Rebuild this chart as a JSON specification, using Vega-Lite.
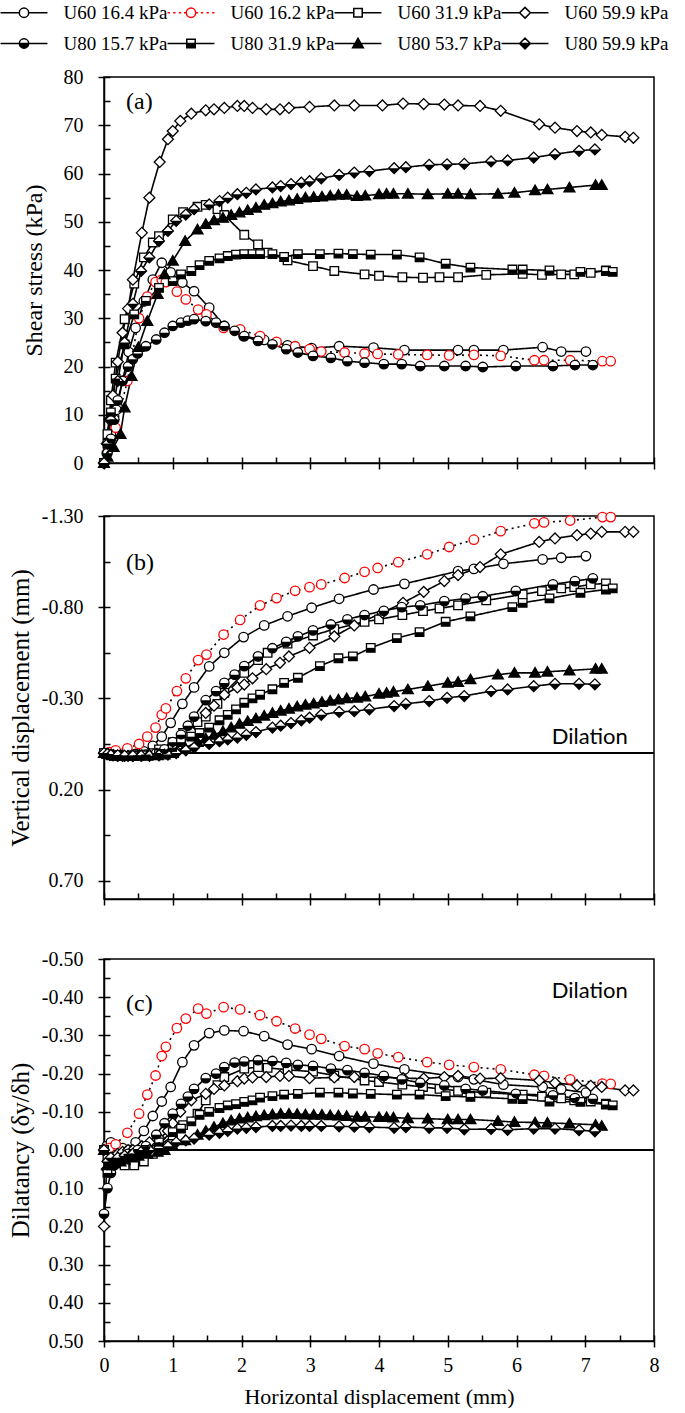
{
"$schema": "https://vega.github.io/schema/vega-lite/v6.json",
"padding": {"left": 0, "top": 2, "right": 0, "bottom": 0},
"config": {
  "view": {"stroke": "black", "strokeWidth": 1.5},
  "axis": {"labelFont": "Liberation Serif", "labelFontSize": 20, "labelColor": "black", "titleFont": "Liberation Serif", "titleFontWeight": "normal", "titleColor": "black", "domainColor": "black", "domainWidth": 1.5, "tickColor": "black", "tickWidth": 1.5, "grid": false, "labelFlush": false, "labelOverlap": false, "labelBound": false}
},
"data": {"values": [
{"s":"U60 16.4 kPa","x":0,"t":0,"v":0,"d":0},
{"s":"U60 16.4 kPa","x":0.04,"t":2,"v":0.005,"d":-0.01},
{"s":"U60 16.4 kPa","x":0.1,"t":6,"v":0.01,"d":-0.02},
{"s":"U60 16.4 kPa","x":0.18,"t":11,"v":0.012,"d":-0.01},
{"s":"U60 16.4 kPa","x":0.27,"t":17,"v":0.012,"d":-0.005},
{"s":"U60 16.4 kPa","x":0.36,"t":23,"v":0.01,"d":0},
{"s":"U60 16.4 kPa","x":0.46,"t":28,"v":0.005,"d":-0.02},
{"s":"U60 16.4 kPa","x":0.58,"t":33.5,"v":-0.01,"d":-0.05},
{"s":"U60 16.4 kPa","x":0.71,"t":38,"v":-0.04,"d":-0.089},
{"s":"U60 16.4 kPa","x":0.84,"t":41.5,"v":-0.09,"d":-0.127},
{"s":"U60 16.4 kPa","x":0.97,"t":39.5,"v":-0.166,"d":-0.165},
{"s":"U60 16.4 kPa","x":1.14,"t":37.4,"v":-0.27,"d":-0.23},
{"s":"U60 16.4 kPa","x":1.31,"t":35.6,"v":-0.36,"d":-0.274},
{"s":"U60 16.4 kPa","x":1.53,"t":32.2,"v":-0.475,"d":-0.306},
{"s":"U60 16.4 kPa","x":1.75,"t":28.4,"v":-0.55,"d":-0.313},
{"s":"U60 16.4 kPa","x":2.03,"t":26.3,"v":-0.636,"d":-0.311},
{"s":"U60 16.4 kPa","x":2.33,"t":25.5,"v":-0.7,"d":-0.298},
{"s":"U60 16.4 kPa","x":2.67,"t":24.4,"v":-0.75,"d":-0.276},
{"s":"U60 16.4 kPa","x":3.02,"t":23.8,"v":-0.797,"d":-0.264},
{"s":"U60 16.4 kPa","x":3.42,"t":24.2,"v":-0.846,"d":-0.246},
{"s":"U60 16.4 kPa","x":3.92,"t":23.9,"v":-0.897,"d":-0.226},
{"s":"U60 16.4 kPa","x":4.37,"t":23.4,"v":-0.928,"d":-0.211},
{"s":"U60 16.4 kPa","x":5.15,"t":23.4,"v":-0.998,"d":-0.191},
{"s":"U60 16.4 kPa","x":5.38,"t":23.4,"v":-1.01,"d":-0.185},
{"s":"U60 16.4 kPa","x":5.81,"t":23.4,"v":-1.038,"d":-0.171},
{"s":"U60 16.4 kPa","x":6.38,"t":24.0,"v":-1.062,"d":-0.165},
{"s":"U60 16.4 kPa","x":6.65,"t":23.1,"v":-1.071,"d":-0.159},
{"s":"U60 16.4 kPa","x":7.01,"t":23.1,"v":-1.08,"d":-0.15},
{"s":"U60 16.2 kPa","x":0,"t":0,"v":0,"d":0},
{"s":"U60 16.2 kPa","x":0.08,"t":3,"v":-0.005,"d":-0.005},
{"s":"U60 16.2 kPa","x":0.17,"t":7.3,"v":-0.015,"d":-0.015},
{"s":"U60 16.2 kPa","x":0.34,"t":17,"v":-0.026,"d":-0.045},
{"s":"U60 16.2 kPa","x":0.51,"t":30,"v":-0.05,"d":-0.095},
{"s":"U60 16.2 kPa","x":0.63,"t":34.5,"v":-0.09,"d":-0.145},
{"s":"U60 16.2 kPa","x":0.75,"t":37.5,"v":-0.14,"d":-0.195},
{"s":"U60 16.2 kPa","x":0.84,"t":38,"v":-0.21,"d":-0.246},
{"s":"U60 16.2 kPa","x":0.9,"t":37.5,"v":-0.245,"d":-0.27},
{"s":"U60 16.2 kPa","x":1.06,"t":35.5,"v":-0.34,"d":-0.319},
{"s":"U60 16.2 kPa","x":1.19,"t":33.9,"v":-0.41,"d":-0.344},
{"s":"U60 16.2 kPa","x":1.37,"t":31.8,"v":-0.51,"d":-0.37},
{"s":"U60 16.2 kPa","x":1.49,"t":30.8,"v":-0.54,"d":-0.357},
{"s":"U60 16.2 kPa","x":1.74,"t":28,"v":-0.65,"d":-0.374},
{"s":"U60 16.2 kPa","x":1.98,"t":27.7,"v":-0.73,"d":-0.368},
{"s":"U60 16.2 kPa","x":2.27,"t":26.3,"v":-0.81,"d":-0.353},
{"s":"U60 16.2 kPa","x":2.51,"t":25.1,"v":-0.85,"d":-0.337},
{"s":"U60 16.2 kPa","x":2.78,"t":24.2,"v":-0.89,"d":-0.318},
{"s":"U60 16.2 kPa","x":2.99,"t":23.6,"v":-0.91,"d":-0.302},
{"s":"U60 16.2 kPa","x":3.16,"t":23.1,"v":-0.925,"d":-0.291},
{"s":"U60 16.2 kPa","x":3.5,"t":22.9,"v":-0.96,"d":-0.272},
{"s":"U60 16.2 kPa","x":3.79,"t":22.7,"v":-0.994,"d":-0.264},
{"s":"U60 16.2 kPa","x":3.98,"t":22.6,"v":-1.015,"d":-0.253},
{"s":"U60 16.2 kPa","x":4.28,"t":22.5,"v":-1.047,"d":-0.243},
{"s":"U60 16.2 kPa","x":4.7,"t":22.4,"v":-1.09,"d":-0.23},
{"s":"U60 16.2 kPa","x":5.02,"t":22.3,"v":-1.13,"d":-0.223},
{"s":"U60 16.2 kPa","x":5.38,"t":22.4,"v":-1.17,"d":-0.217},
{"s":"U60 16.2 kPa","x":5.77,"t":22.2,"v":-1.217,"d":-0.211},
{"s":"U60 16.2 kPa","x":6.26,"t":21.3,"v":-1.26,"d":-0.197},
{"s":"U60 16.2 kPa","x":6.4,"t":21.3,"v":-1.265,"d":-0.194},
{"s":"U60 16.2 kPa","x":6.78,"t":21.3,"v":-1.275,"d":-0.185},
{"s":"U60 16.2 kPa","x":7.25,"t":21.1,"v":-1.294,"d":-0.174},
{"s":"U60 16.2 kPa","x":7.37,"t":21.1,"v":-1.294,"d":-0.173},
{"s":"U60 31.9 kPa","x":0,"t":0,"v":0,"d":0},
{"s":"U60 31.9 kPa","x":0.05,"t":6,"v":0.005,"d":0.02},
{"s":"U60 31.9 kPa","x":0.1,"t":13,"v":0.01,"d":0.03},
{"s":"U60 31.9 kPa","x":0.17,"t":20.8,"v":0.012,"d":0.035},
{"s":"U60 31.9 kPa","x":0.3,"t":29.8,"v":0.015,"d":0.04},
{"s":"U60 31.9 kPa","x":0.44,"t":37.2,"v":0.012,"d":0.04},
{"s":"U60 31.9 kPa","x":0.58,"t":42.6,"v":0.008,"d":0.03},
{"s":"U60 31.9 kPa","x":0.71,"t":45.7,"v":0,"d":0.01},
{"s":"U60 31.9 kPa","x":0.8,"t":47,"v":-0.02,"d":-0.01},
{"s":"U60 31.9 kPa","x":1.0,"t":50.5,"v":-0.06,"d":-0.038},
{"s":"U60 31.9 kPa","x":1.15,"t":52,"v":-0.11,"d":-0.065},
{"s":"U60 31.9 kPa","x":1.36,"t":53.1,"v":-0.17,"d":-0.095},
{"s":"U60 31.9 kPa","x":1.48,"t":53.5,"v":-0.2,"d":-0.13},
{"s":"U60 31.9 kPa","x":1.65,"t":52.6,"v":-0.27,"d":-0.17},
{"s":"U60 31.9 kPa","x":1.75,"t":51.4,"v":-0.33,"d":-0.191},
{"s":"U60 31.9 kPa","x":2.04,"t":47.3,"v":-0.44,"d":-0.213},
{"s":"U60 31.9 kPa","x":2.24,"t":45.3,"v":-0.51,"d":-0.217},
{"s":"U60 31.9 kPa","x":2.38,"t":43.6,"v":-0.55,"d":-0.215},
{"s":"U60 31.9 kPa","x":2.67,"t":42,"v":-0.6,"d":-0.21},
{"s":"U60 31.9 kPa","x":3.04,"t":40.8,"v":-0.645,"d":-0.205},
{"s":"U60 31.9 kPa","x":3.35,"t":39.8,"v":-0.68,"d":-0.195},
{"s":"U60 31.9 kPa","x":3.79,"t":39.1,"v":-0.72,"d":-0.182},
{"s":"U60 31.9 kPa","x":4.0,"t":38.8,"v":-0.733,"d":-0.178},
{"s":"U60 31.9 kPa","x":4.34,"t":38.5,"v":-0.757,"d":-0.171},
{"s":"U60 31.9 kPa","x":4.64,"t":38.4,"v":-0.778,"d":-0.165},
{"s":"U60 31.9 kPa","x":4.88,"t":38.5,"v":-0.793,"d":-0.16},
{"s":"U60 31.9 kPa","x":5.15,"t":38.5,"v":-0.81,"d":-0.155},
{"s":"U60 31.9 kPa","x":5.56,"t":39,"v":-0.837,"d":-0.15},
{"s":"U60 31.9 kPa","x":6.09,"t":39.2,"v":-0.87,"d":-0.145},
{"s":"U60 31.9 kPa","x":6.37,"t":39,"v":-0.888,"d":-0.14},
{"s":"U60 31.9 kPa","x":6.65,"t":39.1,"v":-0.903,"d":-0.135},
{"s":"U60 31.9 kPa","x":6.84,"t":39.1,"v":-0.91,"d":-0.13},
{"s":"U60 31.9 kPa","x":7.08,"t":39.4,"v":-0.925,"d":-0.127},
{"s":"U60 31.9 kPa","x":7.3,"t":39.9,"v":-0.93,"d":-0.121},
{"s":"U60 59.9 kPa","x":0,"t":0,"v":0,"d":0.2},
{"s":"U60 59.9 kPa","x":0.04,"t":4,"v":0.005,"d":0.05},
{"s":"U60 59.9 kPa","x":0.08,"t":9,"v":0.01,"d":0.03},
{"s":"U60 59.9 kPa","x":0.13,"t":14,"v":0.012,"d":0.02},
{"s":"U60 59.9 kPa","x":0.2,"t":21,"v":0.015,"d":0.01},
{"s":"U60 59.9 kPa","x":0.27,"t":27,"v":0.015,"d":0.005},
{"s":"U60 59.9 kPa","x":0.35,"t":32,"v":0.015,"d":0},
{"s":"U60 59.9 kPa","x":0.42,"t":38,"v":0.015,"d":0},
{"s":"U60 59.9 kPa","x":0.55,"t":47.7,"v":0.012,"d":-0.01},
{"s":"U60 59.9 kPa","x":0.66,"t":55,"v":0.01,"d":-0.02},
{"s":"U60 59.9 kPa","x":0.81,"t":62.4,"v":0.005,"d":-0.03},
{"s":"U60 59.9 kPa","x":0.93,"t":67.1,"v":-0.01,"d":-0.05},
{"s":"U60 59.9 kPa","x":1.0,"t":68.8,"v":-0.02,"d":-0.07},
{"s":"U60 59.9 kPa","x":1.11,"t":70.9,"v":-0.05,"d":-0.1},
{"s":"U60 59.9 kPa","x":1.27,"t":72.4,"v":-0.12,"d":-0.13},
{"s":"U60 59.9 kPa","x":1.48,"t":73.1,"v":-0.22,"d":-0.147},
{"s":"U60 59.9 kPa","x":1.6,"t":73.3,"v":-0.26,"d":-0.16},
{"s":"U60 59.9 kPa","x":1.75,"t":73.6,"v":-0.32,"d":-0.169},
{"s":"U60 59.9 kPa","x":1.94,"t":74,"v":-0.36,"d":-0.18},
{"s":"U60 59.9 kPa","x":2.04,"t":74,"v":-0.376,"d":-0.187},
{"s":"U60 59.9 kPa","x":2.16,"t":73.6,"v":-0.41,"d":-0.19},
{"s":"U60 59.9 kPa","x":2.36,"t":73.3,"v":-0.46,"d":-0.191},
{"s":"U60 59.9 kPa","x":2.56,"t":73.3,"v":-0.495,"d":-0.194},
{"s":"U60 59.9 kPa","x":2.69,"t":73.6,"v":-0.53,"d":-0.194},
{"s":"U60 59.9 kPa","x":2.99,"t":73.8,"v":-0.577,"d":-0.188},
{"s":"U60 59.9 kPa","x":3.35,"t":74.1,"v":-0.64,"d":-0.19},
{"s":"U60 59.9 kPa","x":3.64,"t":74.1,"v":-0.7,"d":-0.191},
{"s":"U60 59.9 kPa","x":4.05,"t":74.1,"v":-0.77,"d":-0.19},
{"s":"U60 59.9 kPa","x":4.35,"t":74.5,"v":-0.824,"d":-0.188},
{"s":"U60 59.9 kPa","x":4.65,"t":74.4,"v":-0.884,"d":-0.187},
{"s":"U60 59.9 kPa","x":4.95,"t":74.3,"v":-0.943,"d":-0.191},
{"s":"U60 59.9 kPa","x":5.15,"t":74.1,"v":-0.976,"d":-0.194},
{"s":"U60 59.9 kPa","x":5.47,"t":74,"v":-1.02,"d":-0.187},
{"s":"U60 59.9 kPa","x":5.77,"t":73,"v":-1.09,"d":-0.188},
{"s":"U60 59.9 kPa","x":6.33,"t":70.2,"v":-1.158,"d":-0.182},
{"s":"U60 59.9 kPa","x":6.56,"t":69.5,"v":-1.177,"d":-0.176},
{"s":"U60 59.9 kPa","x":6.88,"t":68.8,"v":-1.195,"d":-0.169},
{"s":"U60 59.9 kPa","x":7.08,"t":68.5,"v":-1.204,"d":-0.168},
{"s":"U60 59.9 kPa","x":7.24,"t":68,"v":-1.213,"d":-0.165},
{"s":"U60 59.9 kPa","x":7.58,"t":67.6,"v":-1.213,"d":-0.156},
{"s":"U60 59.9 kPa","x":7.7,"t":67.4,"v":-1.213,"d":-0.156},
{"s":"U80 15.7 kPa","x":0,"t":0,"v":0,"d":0.167},
{"s":"U80 15.7 kPa","x":0.05,"t":2,"v":0.005,"d":0.1},
{"s":"U80 15.7 kPa","x":0.1,"t":5,"v":0.01,"d":0.06},
{"s":"U80 15.7 kPa","x":0.15,"t":9,"v":0.012,"d":0.04},
{"s":"U80 15.7 kPa","x":0.2,"t":13,"v":0.015,"d":0.03},
{"s":"U80 15.7 kPa","x":0.27,"t":17,"v":0.015,"d":0.02},
{"s":"U80 15.7 kPa","x":0.35,"t":20,"v":0.015,"d":0.01},
{"s":"U80 15.7 kPa","x":0.42,"t":21.5,"v":0.015,"d":0.01},
{"s":"U80 15.7 kPa","x":0.49,"t":22.7,"v":0.012,"d":0},
{"s":"U80 15.7 kPa","x":0.61,"t":24.2,"v":0.008,"d":-0.01},
{"s":"U80 15.7 kPa","x":0.76,"t":25.6,"v":0,"d":-0.04},
{"s":"U80 15.7 kPa","x":0.88,"t":27,"v":-0.02,"d":-0.07},
{"s":"U80 15.7 kPa","x":1.0,"t":28.4,"v":-0.06,"d":-0.095},
{"s":"U80 15.7 kPa","x":1.12,"t":29.1,"v":-0.1,"d":-0.121},
{"s":"U80 15.7 kPa","x":1.22,"t":29.5,"v":-0.15,"d":-0.14},
{"s":"U80 15.7 kPa","x":1.31,"t":29.8,"v":-0.2,"d":-0.16},
{"s":"U80 15.7 kPa","x":1.48,"t":29.4,"v":-0.29,"d":-0.188},
{"s":"U80 15.7 kPa","x":1.63,"t":29.1,"v":-0.34,"d":-0.2},
{"s":"U80 15.7 kPa","x":1.75,"t":28.4,"v":-0.385,"d":-0.217},
{"s":"U80 15.7 kPa","x":1.9,"t":27.4,"v":-0.43,"d":-0.229},
{"s":"U80 15.7 kPa","x":2.04,"t":26.3,"v":-0.477,"d":-0.232},
{"s":"U80 15.7 kPa","x":2.24,"t":25.3,"v":-0.53,"d":-0.235},
{"s":"U80 15.7 kPa","x":2.45,"t":24.6,"v":-0.575,"d":-0.233},
{"s":"U80 15.7 kPa","x":2.65,"t":23.6,"v":-0.61,"d":-0.228},
{"s":"U80 15.7 kPa","x":2.82,"t":22.9,"v":-0.64,"d":-0.223},
{"s":"U80 15.7 kPa","x":3.04,"t":22.2,"v":-0.673,"d":-0.22},
{"s":"U80 15.7 kPa","x":3.3,"t":21.8,"v":-0.705,"d":-0.213},
{"s":"U80 15.7 kPa","x":3.54,"t":21.1,"v":-0.733,"d":-0.209},
{"s":"U80 15.7 kPa","x":3.79,"t":20.8,"v":-0.757,"d":-0.202},
{"s":"U80 15.7 kPa","x":4.07,"t":20.5,"v":-0.78,"d":-0.194},
{"s":"U80 15.7 kPa","x":4.33,"t":20.5,"v":-0.8,"d":-0.185},
{"s":"U80 15.7 kPa","x":4.6,"t":20.1,"v":-0.81,"d":-0.176},
{"s":"U80 15.7 kPa","x":4.95,"t":20.1,"v":-0.833,"d":-0.169},
{"s":"U80 15.7 kPa","x":5.26,"t":20.1,"v":-0.848,"d":-0.16},
{"s":"U80 15.7 kPa","x":5.51,"t":19.9,"v":-0.86,"d":-0.156},
{"s":"U80 15.7 kPa","x":5.99,"t":20.1,"v":-0.89,"d":-0.147},
{"s":"U80 15.7 kPa","x":6.53,"t":20.1,"v":-0.925,"d":-0.143},
{"s":"U80 15.7 kPa","x":6.85,"t":20.3,"v":-0.943,"d":-0.136},
{"s":"U80 15.7 kPa","x":7.11,"t":20.3,"v":-0.958,"d":-0.134},
{"s":"U80 31.9 kPa","x":0,"t":0,"v":0,"d":0},
{"s":"U80 31.9 kPa","x":0.05,"t":4,"v":0.005,"d":0.06},
{"s":"U80 31.9 kPa","x":0.1,"t":10.5,"v":0.01,"d":0.04},
{"s":"U80 31.9 kPa","x":0.17,"t":17.5,"v":0.012,"d":0.03},
{"s":"U80 31.9 kPa","x":0.3,"t":24.6,"v":0.015,"d":0.02},
{"s":"U80 31.9 kPa","x":0.44,"t":30.8,"v":0.015,"d":0.01},
{"s":"U80 31.9 kPa","x":0.61,"t":33.6,"v":0.012,"d":0},
{"s":"U80 31.9 kPa","x":0.8,"t":36.3,"v":0.005,"d":-0.02},
{"s":"U80 31.9 kPa","x":1.0,"t":37.7,"v":-0.03,"d":-0.047},
{"s":"U80 31.9 kPa","x":1.12,"t":39.1,"v":-0.06,"d":-0.056},
{"s":"U80 31.9 kPa","x":1.27,"t":39.8,"v":-0.09,"d":-0.075},
{"s":"U80 31.9 kPa","x":1.39,"t":41,"v":-0.11,"d":-0.092},
{"s":"U80 31.9 kPa","x":1.53,"t":41.9,"v":-0.14,"d":-0.1},
{"s":"U80 31.9 kPa","x":1.68,"t":42.4,"v":-0.18,"d":-0.11},
{"s":"U80 31.9 kPa","x":1.8,"t":42.9,"v":-0.21,"d":-0.117},
{"s":"U80 31.9 kPa","x":1.92,"t":43.2,"v":-0.24,"d":-0.12},
{"s":"U80 31.9 kPa","x":2.04,"t":43.3,"v":-0.276,"d":-0.126},
{"s":"U80 31.9 kPa","x":2.16,"t":43.3,"v":-0.3,"d":-0.13},
{"s":"U80 31.9 kPa","x":2.27,"t":43.3,"v":-0.32,"d":-0.137},
{"s":"U80 31.9 kPa","x":2.45,"t":43.3,"v":-0.35,"d":-0.141},
{"s":"U80 31.9 kPa","x":2.62,"t":42.7,"v":-0.385,"d":-0.145},
{"s":"U80 31.9 kPa","x":2.82,"t":43.3,"v":-0.413,"d":-0.147},
{"s":"U80 31.9 kPa","x":3.14,"t":43.3,"v":-0.477,"d":-0.15},
{"s":"U80 31.9 kPa","x":3.41,"t":43.4,"v":-0.52,"d":-0.15},
{"s":"U80 31.9 kPa","x":3.62,"t":43.3,"v":-0.53,"d":-0.148},
{"s":"U80 31.9 kPa","x":3.88,"t":43.2,"v":-0.577,"d":-0.147},
{"s":"U80 31.9 kPa","x":4.26,"t":43.2,"v":-0.63,"d":-0.145},
{"s":"U80 31.9 kPa","x":4.59,"t":42.6,"v":-0.663,"d":-0.145},
{"s":"U80 31.9 kPa","x":4.97,"t":41.3,"v":-0.72,"d":-0.141},
{"s":"U80 31.9 kPa","x":5.33,"t":40.5,"v":-0.75,"d":-0.139},
{"s":"U80 31.9 kPa","x":5.94,"t":40.1,"v":-0.8,"d":-0.134},
{"s":"U80 31.9 kPa","x":6.09,"t":40.1,"v":-0.824,"d":-0.133},
{"s":"U80 31.9 kPa","x":6.48,"t":39.9,"v":-0.848,"d":-0.127},
{"s":"U80 31.9 kPa","x":6.93,"t":39.6,"v":-0.879,"d":-0.126},
{"s":"U80 31.9 kPa","x":7.3,"t":39.8,"v":-0.897,"d":-0.119},
{"s":"U80 31.9 kPa","x":7.4,"t":39.6,"v":-0.903,"d":-0.117},
{"s":"U80 53.7 kPa","x":0,"t":0,"v":0,"d":0},
{"s":"U80 53.7 kPa","x":0.05,"t":1.3,"v":0.005,"d":0.04},
{"s":"U80 53.7 kPa","x":0.14,"t":3.3,"v":0.01,"d":0.03},
{"s":"U80 53.7 kPa","x":0.24,"t":6,"v":0.012,"d":0.03},
{"s":"U80 53.7 kPa","x":0.3,"t":11.5,"v":0.015,"d":0.025},
{"s":"U80 53.7 kPa","x":0.4,"t":18,"v":0.015,"d":0.02},
{"s":"U80 53.7 kPa","x":0.5,"t":24,"v":0.015,"d":0.015},
{"s":"U80 53.7 kPa","x":0.63,"t":29.4,"v":0.015,"d":0.01},
{"s":"U80 53.7 kPa","x":0.78,"t":35,"v":0.012,"d":0.005},
{"s":"U80 53.7 kPa","x":0.88,"t":39.1,"v":0.008,"d":0},
{"s":"U80 53.7 kPa","x":1.0,"t":41.9,"v":0,"d":-0.01},
{"s":"U80 53.7 kPa","x":1.18,"t":46,"v":-0.03,"d":-0.025},
{"s":"U80 53.7 kPa","x":1.36,"t":48.4,"v":-0.06,"d":-0.04},
{"s":"U80 53.7 kPa","x":1.48,"t":49.5,"v":-0.08,"d":-0.05},
{"s":"U80 53.7 kPa","x":1.6,"t":50.3,"v":-0.1,"d":-0.06},
{"s":"U80 53.7 kPa","x":1.73,"t":50.8,"v":-0.12,"d":-0.07},
{"s":"U80 53.7 kPa","x":1.85,"t":51.4,"v":-0.14,"d":-0.077},
{"s":"U80 53.7 kPa","x":1.97,"t":51.9,"v":-0.16,"d":-0.082},
{"s":"U80 53.7 kPa","x":2.09,"t":52.4,"v":-0.175,"d":-0.085},
{"s":"U80 53.7 kPa","x":2.21,"t":52.9,"v":-0.19,"d":-0.088},
{"s":"U80 53.7 kPa","x":2.33,"t":53.5,"v":-0.205,"d":-0.091},
{"s":"U80 53.7 kPa","x":2.45,"t":53.8,"v":-0.22,"d":-0.093},
{"s":"U80 53.7 kPa","x":2.57,"t":54.2,"v":-0.232,"d":-0.095},
{"s":"U80 53.7 kPa","x":2.69,"t":54.4,"v":-0.243,"d":-0.095},
{"s":"U80 53.7 kPa","x":2.81,"t":54.7,"v":-0.255,"d":-0.094},
{"s":"U80 53.7 kPa","x":2.93,"t":55,"v":-0.265,"d":-0.093},
{"s":"U80 53.7 kPa","x":3.05,"t":55.1,"v":-0.272,"d":-0.092},
{"s":"U80 53.7 kPa","x":3.17,"t":55.2,"v":-0.28,"d":-0.092},
{"s":"U80 53.7 kPa","x":3.29,"t":55.4,"v":-0.287,"d":-0.091},
{"s":"U80 53.7 kPa","x":3.41,"t":55.6,"v":-0.294,"d":-0.09},
{"s":"U80 53.7 kPa","x":3.53,"t":55.6,"v":-0.3,"d":-0.089},
{"s":"U80 53.7 kPa","x":3.68,"t":55.3,"v":-0.303,"d":-0.087},
{"s":"U80 53.7 kPa","x":3.8,"t":55.4,"v":-0.31,"d":-0.087},
{"s":"U80 53.7 kPa","x":4.0,"t":55.7,"v":-0.325,"d":-0.086},
{"s":"U80 53.7 kPa","x":4.11,"t":55.8,"v":-0.33,"d":-0.086},
{"s":"U80 53.7 kPa","x":4.21,"t":55.8,"v":-0.336,"d":-0.085},
{"s":"U80 53.7 kPa","x":4.42,"t":55.8,"v":-0.349,"d":-0.083},
{"s":"U80 53.7 kPa","x":4.71,"t":55.7,"v":-0.367,"d":-0.082},
{"s":"U80 53.7 kPa","x":5.0,"t":55.8,"v":-0.385,"d":-0.08},
{"s":"U80 53.7 kPa","x":5.15,"t":55.8,"v":-0.39,"d":-0.08},
{"s":"U80 53.7 kPa","x":5.33,"t":55.7,"v":-0.404,"d":-0.08},
{"s":"U80 53.7 kPa","x":5.73,"t":55.8,"v":-0.43,"d":-0.076},
{"s":"U80 53.7 kPa","x":5.97,"t":56,"v":-0.44,"d":-0.073},
{"s":"U80 53.7 kPa","x":6.27,"t":56.5,"v":-0.44,"d":-0.072},
{"s":"U80 53.7 kPa","x":6.45,"t":56.7,"v":-0.446,"d":-0.071},
{"s":"U80 53.7 kPa","x":6.77,"t":57.1,"v":-0.453,"d":-0.069},
{"s":"U80 53.7 kPa","x":7.15,"t":57.6,"v":-0.462,"d":-0.066},
{"s":"U80 53.7 kPa","x":7.24,"t":57.6,"v":-0.462,"d":-0.063},
{"s":"U80 59.9 kPa","x":0,"t":0,"v":0,"d":0},
{"s":"U80 59.9 kPa","x":0.05,"t":4,"v":0.005,"d":0.03},
{"s":"U80 59.9 kPa","x":0.1,"t":9,"v":0.01,"d":0.02},
{"s":"U80 59.9 kPa","x":0.2,"t":17,"v":0.012,"d":0.02},
{"s":"U80 59.9 kPa","x":0.3,"t":25,"v":0.015,"d":0.015},
{"s":"U80 59.9 kPa","x":0.42,"t":33,"v":0.015,"d":0.01},
{"s":"U80 59.9 kPa","x":0.54,"t":39.8,"v":0.015,"d":0.005},
{"s":"U80 59.9 kPa","x":0.66,"t":42.6,"v":0.015,"d":0},
{"s":"U80 59.9 kPa","x":0.8,"t":46,"v":0.012,"d":-0.005},
{"s":"U80 59.9 kPa","x":0.93,"t":48.1,"v":0.008,"d":-0.01},
{"s":"U80 59.9 kPa","x":1.05,"t":50.2,"v":0,"d":-0.02},
{"s":"U80 59.9 kPa","x":1.19,"t":51.5,"v":-0.015,"d":-0.025},
{"s":"U80 59.9 kPa","x":1.31,"t":52.6,"v":-0.03,"d":-0.03},
{"s":"U80 59.9 kPa","x":1.53,"t":53.6,"v":-0.05,"d":-0.04},
{"s":"U80 59.9 kPa","x":1.68,"t":54.3,"v":-0.065,"d":-0.045},
{"s":"U80 59.9 kPa","x":1.8,"t":55,"v":-0.075,"d":-0.05},
{"s":"U80 59.9 kPa","x":1.94,"t":55.7,"v":-0.085,"d":-0.056},
{"s":"U80 59.9 kPa","x":2.07,"t":56,"v":-0.1,"d":-0.058},
{"s":"U80 59.9 kPa","x":2.21,"t":56.7,"v":-0.115,"d":-0.06},
{"s":"U80 59.9 kPa","x":2.45,"t":57.1,"v":-0.14,"d":-0.063},
{"s":"U80 59.9 kPa","x":2.57,"t":57.4,"v":-0.15,"d":-0.063},
{"s":"U80 59.9 kPa","x":2.72,"t":57.8,"v":-0.165,"d":-0.064},
{"s":"U80 59.9 kPa","x":2.87,"t":58.1,"v":-0.18,"d":-0.063},
{"s":"U80 59.9 kPa","x":2.99,"t":58.4,"v":-0.194,"d":-0.063},
{"s":"U80 59.9 kPa","x":3.16,"t":59,"v":-0.21,"d":-0.063},
{"s":"U80 59.9 kPa","x":3.42,"t":59.7,"v":-0.226,"d":-0.062},
{"s":"U80 59.9 kPa","x":3.64,"t":60.2,"v":-0.23,"d":-0.061},
{"s":"U80 59.9 kPa","x":3.86,"t":60.5,"v":-0.24,"d":-0.06},
{"s":"U80 59.9 kPa","x":4.22,"t":61.1,"v":-0.258,"d":-0.058},
{"s":"U80 59.9 kPa","x":4.39,"t":61.3,"v":-0.27,"d":-0.06},
{"s":"U80 59.9 kPa","x":4.73,"t":61.8,"v":-0.285,"d":-0.058},
{"s":"U80 59.9 kPa","x":4.99,"t":61.9,"v":-0.303,"d":-0.058},
{"s":"U80 59.9 kPa","x":5.24,"t":62,"v":-0.313,"d":-0.054},
{"s":"U80 59.9 kPa","x":5.63,"t":62.5,"v":-0.34,"d":-0.055},
{"s":"U80 59.9 kPa","x":5.87,"t":62.7,"v":-0.349,"d":-0.053},
{"s":"U80 59.9 kPa","x":6.25,"t":63.3,"v":-0.367,"d":-0.056},
{"s":"U80 59.9 kPa","x":6.56,"t":64,"v":-0.38,"d":-0.056},
{"s":"U80 59.9 kPa","x":6.91,"t":64.7,"v":-0.38,"d":-0.052},
{"s":"U80 59.9 kPa","x":7.14,"t":65,"v":-0.377,"d":-0.049}
]},
"spacing": 0,
"bounds": "flush",
"vconcat": [
{
 "width": 550, "height": 386,
 "resolve": {"scale": {"shape": "independent", "fill": "independent", "stroke": "independent"}, "axis": {"x": "independent", "y": "independent"}},
 "layer": [
  {"mark": {"type": "line", "color": "black", "strokeWidth": 1.6},
   "encoding": {
    "x": {"field": "x", "type": "quantitative", "scale": {"domain": [0, 8], "nice": false, "zero": false}, "axis": {"orient": "bottom", "values": [0,1,2,3,4,5,6,7,8], "tickSize": 6, "labels": false, "title": null}},
    "y": {"field": "t", "type": "quantitative", "scale": {"domain": [0, 80], "nice": false}, "axis": {"orient": "left", "values": [0,10,20,30,40,50,60,70,80], "format": "d", "tickSize": 6, "labelPadding": 15, "title": "Shear stress (kPa)", "titleFontSize": 24, "titlePadding": 17}},
    "detail": {"field": "s", "type": "nominal"},
    "strokeDash": {"field": "s", "type": "nominal", "scale": {"domain": ["U60 16.4 kPa","U60 16.2 kPa","U60 31.9 kPa","U60 59.9 kPa","U80 15.7 kPa","U80 31.9 kPa","U80 53.7 kPa","U80 59.9 kPa"], "range": [[1,0],[2,4],[1,0],[1,0],[1,0],[1,0],[1,0],[1,0]]}, "legend": null}
   }},
  {"mark": {"type": "point", "filled": true, "opacity": 1, "size": 90, "strokeWidth": 1.3},
   "encoding": {
    "x": {"field": "x", "type": "quantitative", "scale": {"domain": [0, 8], "nice": false, "zero": false}, "axis": {"orient": "bottom", "values": [0,0.5,1,1.5,2,2.5,3,3.5,4,4.5,5,5.5,6,6.5,7,7.5,8], "tickSize": -6, "labels": false, "domain": false, "title": null}},
    "y": {"field": "t", "type": "quantitative", "scale": {"domain": [0, 80], "nice": false}, "axis": {"orient": "left", "values": [0,5,10,15,20,25,30,35,40,45,50,55,60,65,70,75,80], "tickSize": -6, "labels": false, "domain": false, "title": null}},
    "shape": {"field": "s", "type": "nominal", "scale": {"domain": ["U60 16.4 kPa","U60 16.2 kPa","U60 31.9 kPa","U60 59.9 kPa","U80 15.7 kPa","U80 31.9 kPa","U80 53.7 kPa","U80 59.9 kPa"], "range": ["M1,0A1,1 0 1,1 -1,0A1,1 0 1,1 1,0Z","M1,0A1,1 0 1,1 -1,0A1,1 0 1,1 1,0Z","M-0.9,-0.9H0.9V0.9H-0.9Z","M-1.15,0L0,-1.15L1.15,0L0,1.15Z","M1,0A1,1 0 1,1 -1,0A1,1 0 1,1 1,0Z","M-0.9,-0.9H0.9V0.9H-0.9Z","M0,-1.1L1.15,0.9L-1.15,0.9Z","M-1.15,0L0,-1.15L1.15,0L0,1.15Z"]}, "legend": null},
    "fill": {"field": "s", "type": "nominal", "scale": {"domain": ["U60 16.4 kPa","U60 16.2 kPa","U60 31.9 kPa","U60 59.9 kPa","U80 15.7 kPa","U80 31.9 kPa","U80 53.7 kPa","U80 59.9 kPa"], "range": ["white","white","white","white","white","white","black","white"]}, "legend": null},
    "stroke": {"field": "s", "type": "nominal", "scale": {"domain": ["U60 16.4 kPa","U60 16.2 kPa","U60 31.9 kPa","U60 59.9 kPa","U80 15.7 kPa","U80 31.9 kPa","U80 53.7 kPa","U80 59.9 kPa"], "range": ["black","#ff0000","black","black","black","black","black","black"]}, "legend": null}
   }},
  {"transform": [{"filter": {"field": "s", "oneOf": ["U80 15.7 kPa","U80 31.9 kPa","U80 59.9 kPa"]}}],
   "mark": {"type": "point", "filled": true, "opacity": 1, "size": 90, "fill": "black", "strokeWidth": 0},
   "encoding": {
    "x": {"field": "x", "type": "quantitative", "axis": null},
    "y": {"field": "t", "type": "quantitative", "axis": null},
    "shape": {"field": "s", "type": "nominal", "scale": {"domain": ["U80 15.7 kPa","U80 31.9 kPa","U80 59.9 kPa"], "range": ["M-1,0A1,1 0 0,0 1,0Z","M-0.9,0H0.9V0.9H-0.9Z","M-1.15,0L1.15,0L0,1.15Z"]}, "legend": null}
   }},
  {"data": {"values": [{}]},
   "mark": {"type": "text", "text": "(a)", "font": "Liberation Serif", "fontSize": 24, "align": "left", "baseline": "middle", "color": "black"},
   "encoding": {"x": {"datum": 0.32, "type": "quantitative", "axis": null}, "y": {"datum": 74.8, "type": "quantitative", "axis": null}}},
  {"transform": [{"filter": "datum.x < 0"}],
   "mark": {"type": "point", "filled": true, "opacity": 1, "strokeWidth": 1.5},
   "encoding": {
    "shape": {"field": "s", "type": "nominal", "scale": {"domain": ["U60 16.4 kPa","U60 16.2 kPa","U60 31.9 kPa","U60 59.9 kPa","U80 15.7 kPa","U80 31.9 kPa","U80 53.7 kPa","U80 59.9 kPa"], "range": [
      "M-5,0H-1M1,0H5M1,0A1,1 0 1,1 -1,0A1,1 0 1,1 1,0Z",
      "M-5,0H-4.5M-3.8,0H-3.3M-2.6,0H-2.1M-1.5,0H-1.1M1.1,0H1.5M2.1,0H2.6M3.3,0H3.8M4.5,0H5M1,0A1,1 0 1,1 -1,0A1,1 0 1,1 1,0Z",
      "M-5,0H-0.9M0.9,0H5M-0.9,-0.9H0.9V0.9H-0.9Z",
      "M-5,0H-1.15M1.15,0H5M-1.15,0L0,-1.15L1.15,0L0,1.15Z",
      "M-5,0H-1M1,0H5M-1,0A1,1 0 0,1 1,0A1,1 0 0,0 -1,0M-1,0A1,1 0 0,0 1,0Z",
      "M-5,0H-0.9M0.9,0H5M-0.9,0V-0.9H0.9V0V-0.9H-0.9V0M-0.9,0H0.9V0.9H-0.9Z",
      "M-5,0H5M0,-1.1L1.15,0.9L-1.15,0.9Z",
      "M-5,0H-1.15M1.15,0H5M-1.15,0L0,-1.15L1.15,0L0,-1.15L-1.15,0M-1.15,0L1.15,0L0,1.15Z"]},
     "legend": {"orient": "none", "legendX": -103, "legendY": -74, "direction": "horizontal", "columns": 4, "gridAlign": "each", "title": null, "labelFont": "Liberation Serif", "labelFontSize": 19, "labelColor": "black", "symbolSize": 88, "symbolStrokeWidth": 1.5, "symbolOffset": 13.5, "labelOffset": 30, "columnPadding": -22, "rowPadding": 11, "padding": 0, "labelLimit": 300}},
    "fill": {"field": "s", "type": "nominal", "scale": {"domain": ["U60 16.4 kPa","U60 16.2 kPa","U60 31.9 kPa","U60 59.9 kPa","U80 15.7 kPa","U80 31.9 kPa","U80 53.7 kPa","U80 59.9 kPa"], "range": ["white","white","white","white","black","black","black","black"]},
     "legend": {"orient": "none", "legendX": -103, "legendY": -74, "direction": "horizontal", "columns": 4, "gridAlign": "each", "title": null, "labelFont": "Liberation Serif", "labelFontSize": 19, "labelColor": "black", "symbolSize": 88, "symbolStrokeWidth": 1.5, "symbolOffset": 13.5, "labelOffset": 30, "columnPadding": -22, "rowPadding": 11, "padding": 0, "labelLimit": 300}},
    "stroke": {"field": "s", "type": "nominal", "scale": {"domain": ["U60 16.4 kPa","U60 16.2 kPa","U60 31.9 kPa","U60 59.9 kPa","U80 15.7 kPa","U80 31.9 kPa","U80 53.7 kPa","U80 59.9 kPa"], "range": ["black","#ff0000","black","black","black","black","black","black"]},
     "legend": {"orient": "none", "legendX": -103, "legendY": -74, "direction": "horizontal", "columns": 4, "gridAlign": "each", "title": null, "labelFont": "Liberation Serif", "labelFontSize": 19, "labelColor": "black", "symbolSize": 88, "symbolStrokeWidth": 1.5, "symbolOffset": 13.5, "labelOffset": 30, "columnPadding": -22, "rowPadding": 11, "padding": 0, "labelLimit": 300}}
   }}
 ]
},
{"width": 550, "height": 53, "view": {"stroke": null}, "data": {"values": []}, "mark": {"type": "point", "opacity": 0}},
{
 "width": 550, "height": 383,
 "resolve": {"scale": {"shape": "independent", "fill": "independent", "stroke": "independent"}, "axis": {"x": "independent", "y": "independent"}},
 "layer": [
  {"data": {"values": [{}]},
   "mark": {"type": "rule", "color": "black", "strokeWidth": 2},
   "encoding": {"y": {"datum": 0, "type": "quantitative", "axis": null}}},
  {"mark": {"type": "line", "color": "black", "strokeWidth": 1.6},
   "encoding": {
    "x": {"field": "x", "type": "quantitative", "scale": {"domain": [0, 8], "nice": false, "zero": false}, "axis": {"orient": "bottom", "values": [0,1,2,3,4,5,6,7,8], "tickSize": 6, "labels": false, "title": null}},
    "y": {"field": "v", "type": "quantitative", "scale": {"domain": [-1.3, 0.8], "nice": false, "zero": false, "reverse": true}, "axis": {"orient": "left", "values": [-1.3,-0.8,-0.3,0.2,0.7], "labelExpr": "(datum.value < 0 ? '-' : '') + format(abs(datum.value), '.2f')", "tickSize": 6, "labelPadding": 15, "title": "Vertical displacement (mm)", "titleFontSize": 25, "titlePadding": 8}},
    "detail": {"field": "s", "type": "nominal"},
    "strokeDash": {"field": "s", "type": "nominal", "scale": {"domain": ["U60 16.4 kPa","U60 16.2 kPa","U60 31.9 kPa","U60 59.9 kPa","U80 15.7 kPa","U80 31.9 kPa","U80 53.7 kPa","U80 59.9 kPa"], "range": [[1,0],[2,4],[1,0],[1,0],[1,0],[1,0],[1,0],[1,0]]}, "legend": null}
   }},
  {"mark": {"type": "point", "filled": true, "opacity": 1, "size": 90, "strokeWidth": 1.3},
   "encoding": {
    "x": {"field": "x", "type": "quantitative", "scale": {"domain": [0, 8], "nice": false, "zero": false}, "axis": {"orient": "bottom", "values": [0,0.5,1,1.5,2,2.5,3,3.5,4,4.5,5,5.5,6,6.5,7,7.5,8], "tickSize": -6, "labels": false, "domain": false, "title": null}},
    "y": {"field": "v", "type": "quantitative", "scale": {"domain": [-1.3, 0.8], "nice": false, "zero": false, "reverse": true}, "axis": {"orient": "left", "values": [-1.3,-1.05,-0.8,-0.55,-0.3,-0.05,0.2,0.45,0.7], "tickSize": -6, "labels": false, "domain": false, "title": null}},
    "shape": {"field": "s", "type": "nominal", "scale": {"domain": ["U60 16.4 kPa","U60 16.2 kPa","U60 31.9 kPa","U60 59.9 kPa","U80 15.7 kPa","U80 31.9 kPa","U80 53.7 kPa","U80 59.9 kPa"], "range": ["M1,0A1,1 0 1,1 -1,0A1,1 0 1,1 1,0Z","M1,0A1,1 0 1,1 -1,0A1,1 0 1,1 1,0Z","M-0.9,-0.9H0.9V0.9H-0.9Z","M-1.15,0L0,-1.15L1.15,0L0,1.15Z","M1,0A1,1 0 1,1 -1,0A1,1 0 1,1 1,0Z","M-0.9,-0.9H0.9V0.9H-0.9Z","M0,-1.1L1.15,0.9L-1.15,0.9Z","M-1.15,0L0,-1.15L1.15,0L0,1.15Z"]}, "legend": null},
    "fill": {"field": "s", "type": "nominal", "scale": {"domain": ["U60 16.4 kPa","U60 16.2 kPa","U60 31.9 kPa","U60 59.9 kPa","U80 15.7 kPa","U80 31.9 kPa","U80 53.7 kPa","U80 59.9 kPa"], "range": ["white","white","white","white","white","white","black","white"]}, "legend": null},
    "stroke": {"field": "s", "type": "nominal", "scale": {"domain": ["U60 16.4 kPa","U60 16.2 kPa","U60 31.9 kPa","U60 59.9 kPa","U80 15.7 kPa","U80 31.9 kPa","U80 53.7 kPa","U80 59.9 kPa"], "range": ["black","#ff0000","black","black","black","black","black","black"]}, "legend": null}
   }},
  {"transform": [{"filter": {"field": "s", "oneOf": ["U80 15.7 kPa","U80 31.9 kPa","U80 59.9 kPa"]}}],
   "mark": {"type": "point", "filled": true, "opacity": 1, "size": 90, "fill": "black", "strokeWidth": 0},
   "encoding": {
    "x": {"field": "x", "type": "quantitative", "axis": null},
    "y": {"field": "v", "type": "quantitative", "axis": null},
    "shape": {"field": "s", "type": "nominal", "scale": {"domain": ["U80 15.7 kPa","U80 31.9 kPa","U80 59.9 kPa"], "range": ["M-1,0A1,1 0 0,0 1,0Z","M-0.9,0H0.9V0.9H-0.9Z","M-1.15,0L1.15,0L0,1.15Z"]}, "legend": null}
   }},
  {"data": {"values": [{}]},
   "mark": {"type": "text", "text": "(b)", "font": "Liberation Serif", "fontSize": 24, "align": "left", "baseline": "middle", "color": "black"},
   "encoding": {"x": {"datum": 0.32, "type": "quantitative", "axis": null}, "y": {"datum": -1.04, "type": "quantitative", "axis": null}}},
  {"data": {"values": [{}]},
   "mark": {"type": "text", "text": "Dilation", "font": "Lato", "fontSize": 22, "align": "right", "baseline": "alphabetic", "color": "black"},
   "encoding": {"x": {"datum": 7.62, "type": "quantitative", "axis": null}, "y": {"datum": -0.05, "type": "quantitative", "axis": null}}}
 ]
},
{"width": 550, "height": 60, "view": {"stroke": null}, "data": {"values": []}, "mark": {"type": "point", "opacity": 0}},
{
 "width": 550, "height": 382,
 "resolve": {"scale": {"shape": "independent", "fill": "independent", "stroke": "independent"}, "axis": {"x": "independent", "y": "independent"}},
 "layer": [
  {"data": {"values": [{}]},
   "mark": {"type": "rule", "color": "black", "strokeWidth": 2},
   "encoding": {"y": {"datum": 0, "type": "quantitative", "axis": null}}},
  {"mark": {"type": "line", "color": "black", "strokeWidth": 1.6},
   "encoding": {
    "x": {"field": "x", "type": "quantitative", "scale": {"domain": [0, 8], "nice": false, "zero": false}, "axis": {"orient": "bottom", "values": [0,1,2,3,4,5,6,7,8], "format": "d", "tickSize": 6, "labelPadding": 8, "title": "Horizontal displacement (mm)", "titleFontSize": 22, "titlePadding": 11}},
    "y": {"field": "d", "type": "quantitative", "scale": {"domain": [-0.5, 0.5], "nice": false, "zero": false, "reverse": true}, "axis": {"orient": "left", "values": [-0.5,-0.4,-0.3,-0.2,-0.1,0,0.1,0.2,0.3,0.4,0.5], "labelExpr": "(datum.value < 0 ? '-' : '') + format(abs(datum.value), '.2f')", "tickSize": 6, "labelPadding": 15, "title": "Dilatancy (δy/δh)", "titleFontSize": 25, "titlePadding": 8}},
    "detail": {"field": "s", "type": "nominal"},
    "strokeDash": {"field": "s", "type": "nominal", "scale": {"domain": ["U60 16.4 kPa","U60 16.2 kPa","U60 31.9 kPa","U60 59.9 kPa","U80 15.7 kPa","U80 31.9 kPa","U80 53.7 kPa","U80 59.9 kPa"], "range": [[1,0],[2,4],[1,0],[1,0],[1,0],[1,0],[1,0],[1,0]]}, "legend": null}
   }},
  {"mark": {"type": "point", "filled": true, "opacity": 1, "size": 90, "strokeWidth": 1.3},
   "encoding": {
    "x": {"field": "x", "type": "quantitative", "scale": {"domain": [0, 8], "nice": false, "zero": false}, "axis": {"orient": "bottom", "values": [0,0.5,1,1.5,2,2.5,3,3.5,4,4.5,5,5.5,6,6.5,7,7.5,8], "tickSize": -6, "labels": false, "domain": false, "title": null}},
    "y": {"field": "d", "type": "quantitative", "scale": {"domain": [-0.5, 0.5], "nice": false, "zero": false, "reverse": true}, "axis": {"orient": "left", "values": [-0.5,-0.45,-0.4,-0.35,-0.3,-0.25,-0.2,-0.15,-0.1,-0.05,0,0.05,0.1,0.15,0.2,0.25,0.3,0.35,0.4,0.45,0.5], "tickSize": -6, "labels": false, "domain": false, "title": null}},
    "shape": {"field": "s", "type": "nominal", "scale": {"domain": ["U60 16.4 kPa","U60 16.2 kPa","U60 31.9 kPa","U60 59.9 kPa","U80 15.7 kPa","U80 31.9 kPa","U80 53.7 kPa","U80 59.9 kPa"], "range": ["M1,0A1,1 0 1,1 -1,0A1,1 0 1,1 1,0Z","M1,0A1,1 0 1,1 -1,0A1,1 0 1,1 1,0Z","M-0.9,-0.9H0.9V0.9H-0.9Z","M-1.15,0L0,-1.15L1.15,0L0,1.15Z","M1,0A1,1 0 1,1 -1,0A1,1 0 1,1 1,0Z","M-0.9,-0.9H0.9V0.9H-0.9Z","M0,-1.1L1.15,0.9L-1.15,0.9Z","M-1.15,0L0,-1.15L1.15,0L0,1.15Z"]}, "legend": null},
    "fill": {"field": "s", "type": "nominal", "scale": {"domain": ["U60 16.4 kPa","U60 16.2 kPa","U60 31.9 kPa","U60 59.9 kPa","U80 15.7 kPa","U80 31.9 kPa","U80 53.7 kPa","U80 59.9 kPa"], "range": ["white","white","white","white","white","white","black","white"]}, "legend": null},
    "stroke": {"field": "s", "type": "nominal", "scale": {"domain": ["U60 16.4 kPa","U60 16.2 kPa","U60 31.9 kPa","U60 59.9 kPa","U80 15.7 kPa","U80 31.9 kPa","U80 53.7 kPa","U80 59.9 kPa"], "range": ["black","#ff0000","black","black","black","black","black","black"]}, "legend": null}
   }},
  {"transform": [{"filter": {"field": "s", "oneOf": ["U80 15.7 kPa","U80 31.9 kPa","U80 59.9 kPa"]}}],
   "mark": {"type": "point", "filled": true, "opacity": 1, "size": 90, "fill": "black", "strokeWidth": 0},
   "encoding": {
    "x": {"field": "x", "type": "quantitative", "axis": null},
    "y": {"field": "d", "type": "quantitative", "axis": null},
    "shape": {"field": "s", "type": "nominal", "scale": {"domain": ["U80 15.7 kPa","U80 31.9 kPa","U80 59.9 kPa"], "range": ["M-1,0A1,1 0 0,0 1,0Z","M-0.9,0H0.9V0.9H-0.9Z","M-1.15,0L1.15,0L0,1.15Z"]}, "legend": null}
   }},
  {"data": {"values": [{}]},
   "mark": {"type": "text", "text": "(c)", "font": "Liberation Serif", "fontSize": 24, "align": "left", "baseline": "middle", "color": "black"},
   "encoding": {"x": {"datum": 0.32, "type": "quantitative", "axis": null}, "y": {"datum": -0.382, "type": "quantitative", "axis": null}}},
  {"data": {"values": [{}]},
   "mark": {"type": "text", "text": "Dilation", "font": "Lato", "fontSize": 22, "align": "right", "baseline": "alphabetic", "color": "black"},
   "encoding": {"x": {"datum": 7.62, "type": "quantitative", "axis": null}, "y": {"datum": -0.398, "type": "quantitative", "axis": null}}}
 ]
}
]
}
